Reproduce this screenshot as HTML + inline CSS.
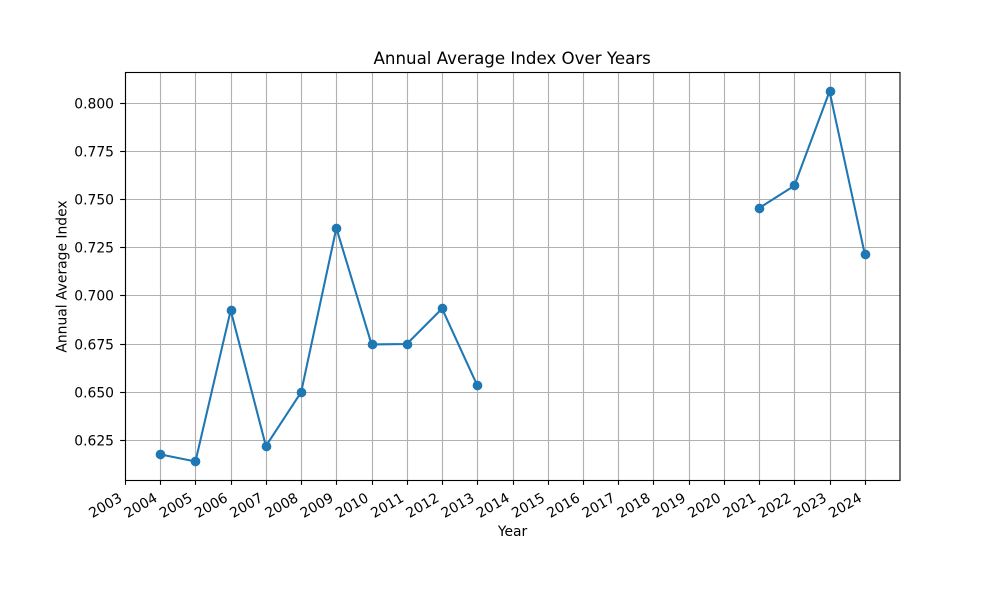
<!DOCTYPE html>
<html lang="en">
<head>
<meta charset="utf-8">
<title>Annual Average Index Over Years</title>
<style>
  html, body { margin: 0; padding: 0; background: #fff; }
  svg { display: block; }
  text { font-family: "DejaVu Sans", "Liberation Sans", sans-serif; fill: #000; }
</style>
</head>
<body>
<svg id="chart" xmlns="http://www.w3.org/2000/svg" width="1000" height="600" viewBox="0 0 1000 600">
  <rect x="0" y="0" width="1000" height="600" fill="#fff"></rect>
  <g id="grid"></g>
  <g id="series"></g>
  <g id="axes"></g>
  <text x="512.2" y="64" font-size="16.67" text-anchor="middle">Annual Average Index Over Years</text>
  <text x="512.5" y="536" font-size="13.89" text-anchor="middle">Year</text>
  <text x="0" y="0" font-size="13.89" text-anchor="middle" transform="translate(66.5 276.5) rotate(-90)">Annual Average Index</text>
</svg>
<script>
const years = [2004, 2005, 2006, 2007, 2008, 2009, 2010, 2011, 2012, 2013, 2014, 2015, 2016, 2017, 2018, 2019, 2020, 2021, 2022, 2023, 2024];
const indexValues = [0.6177, 0.6140, 0.6925, 0.6220, 0.6500, 0.7352, 0.6748, 0.6750, 0.6934, 0.6535, null, null, null, null, null, null, null, 0.7456, 0.7572, 0.8062, 0.7217];
const xTicks = [2003, 2004, 2005, 2006, 2007, 2008, 2009, 2010, 2011, 2012, 2013, 2014, 2015, 2016, 2017, 2018, 2019, 2020, 2021, 2022, 2023, 2024];
const yTicks = [0.625, 0.650, 0.675, 0.700, 0.725, 0.750, 0.775, 0.800];
const xDomain = [2003, 2025];
const yDomain = [0.60439, 0.81625];

const plotLeft = 125, plotRight = 900, plotTop = 72, plotBottom = 480;
const SVG_NS = 'http://www.w3.org/2000/svg';
const BLUE = '#1f77b4';

function xScale(v) {
  return plotLeft + (v - xDomain[0]) / (xDomain[1] - xDomain[0]) * (plotRight - plotLeft);
}
function yScale(v) {
  return plotBottom - (v - yDomain[0]) / (yDomain[1] - yDomain[0]) * (plotBottom - plotTop);
}
function snapX(p) {
  return Math.floor(p + 0.5) + 0.5;
}
function snapY(p) {
  return Math.floor(p) + 0.5;
}
function make(tag, attrs) {
  const el = document.createElementNS(SVG_NS, tag);
  for (const k in attrs) el.setAttribute(k, attrs[k]);
  return el;
}

const gridGroup = document.getElementById('grid');
const axesGroup = document.getElementById('axes');
const seriesGroup = document.getElementById('series');

xTicks.forEach(function (t) {
  const x = snapX(xScale(t));
  const g = make('line', { x1: x, x2: x, y1: plotTop, y2: plotBottom, stroke: '#b0b0b0', 'stroke-width': 1.11 });
  
  
  gridGroup.appendChild(g);

  const tick = make('line', { x1: x, x2: x, y1: plotBottom, y2: plotBottom + 4.86, stroke: '#000', 'stroke-width': 1.11 });
  
  
  axesGroup.appendChild(tick);

  const label = make('text', { x: 0, y: 0, 'font-size': 13.89, 'text-anchor': 'end', transform: 'translate(' + (xScale(t) - 7.3).toFixed(2) + ' 491.5) rotate(-30)', dy: '0.76em' });
  
  
  label.textContent = String(t);
  axesGroup.appendChild(label);
});

yTicks.forEach(function (t) {
  const y = snapY(yScale(t));
  const g = make('line', { x1: plotLeft, x2: plotRight, y1: y, y2: y, stroke: '#b0b0b0', 'stroke-width': 1.11 });
  
  
  gridGroup.appendChild(g);

  const tick = make('line', { x1: plotLeft - 4.86, x2: plotLeft, y1: y, y2: y, stroke: '#000', 'stroke-width': 1.11 });
  
  
  axesGroup.appendChild(tick);

  const label = make('text', { x: plotLeft - 11, y: y + 5, 'font-size': 13.89, 'text-anchor': 'end' });
  
  
  label.textContent = t.toFixed(3);
  axesGroup.appendChild(label);
});

const frame = make('rect', { x: plotLeft + 0.5, y: plotTop + 0.5, width: plotRight - plotLeft - 0.5, height: plotBottom - plotTop, fill: 'none', stroke: '#000', 'stroke-width': 1.11 });


axesGroup.appendChild(frame);

let pathData = '';
let penDown = false;
years.forEach(function (yr, i) {
  const v = indexValues[i];
  if (v === null) { penDown = false; return; }
  pathData += (penDown ? 'L' : 'M') + xScale(yr).toFixed(2) + ' ' + yScale(v).toFixed(2);
  penDown = true;
});
const line = make('path', { d: pathData, fill: 'none', stroke: BLUE, 'stroke-width': 2.08, 'stroke-linejoin': 'round', 'stroke-linecap': 'butt' });


seriesGroup.appendChild(line);

years.forEach(function (yr, i) {
  const v = indexValues[i];
  if (v === null) return;
  const dot = make('circle', { cx: snapX(xScale(yr)), cy: snapY(yScale(v)), r: 4.86, fill: BLUE });
  
  
  seriesGroup.appendChild(dot);
});
</script>
</body>
</html>
